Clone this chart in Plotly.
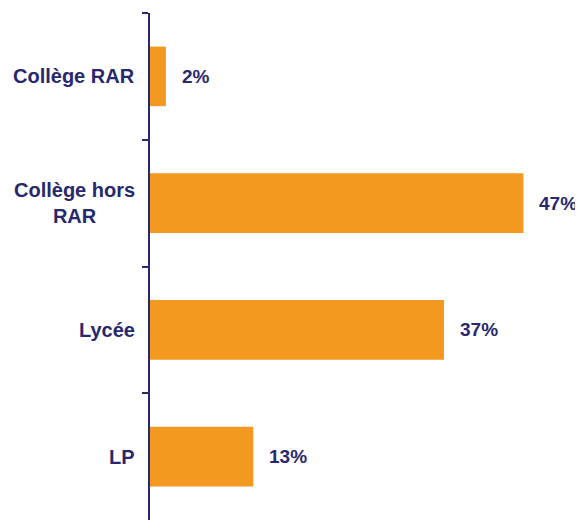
import plotly.graph_objects as go

categories = ["Collège RAR", "Collège hors<br>RAR", "Lycée", "LP"]
values = [2, 47, 37, 13]
value_labels = ["2%", "47%", "37%", "13%"]

ORANGE = "#F39821"
NAVY = "#28286E"
FONT = "Liberation Sans, Arial, sans-serif"

fig = go.Figure()
fig.add_trace(go.Bar(
    x=values, y=categories, orientation="h",
    marker=dict(color=ORANGE, line=dict(width=0)),
    width=0.47, hoverinfo="skip",
))

annotations = []
for c, v, t in zip(categories, values, value_labels):
    annotations.append(dict(
        x=v, y=c, xref="x", yref="y", text="<b>%s</b>" % t,
        showarrow=False, xanchor="left", yanchor="middle", xshift=14,
        font=dict(family=FONT, size=19, color=NAVY),
    ))
    annotations.append(dict(
        x=0, y=c, xref="paper", yref="y", text="<b>%s</b>" % c,
        showarrow=False, xanchor="right", yanchor="middle", xshift=-13,
        align="center",
        font=dict(family=FONT, size=20, color=NAVY),
    ))

fig.update_layout(
    width=575, height=512,
    margin=dict(l=142, r=0, t=5, b=0),
    paper_bgcolor="white", plot_bgcolor="white",
    showlegend=False,
    annotations=annotations,
    xaxis=dict(range=[0, 54.5], visible=False, showgrid=False, zeroline=False),
    yaxis=dict(
        categoryorder="array", categoryarray=categories,
        autorange=False, range=[3.5, -0.5],
        showticklabels=False, showgrid=False, zeroline=False,
        showline=True, linecolor=NAVY, linewidth=2,
        ticks="outside", ticklen=6, tickcolor=NAVY, tickwidth=2,
        tickson="boundaries",
    ),
)

fig.write_html("out.html")
